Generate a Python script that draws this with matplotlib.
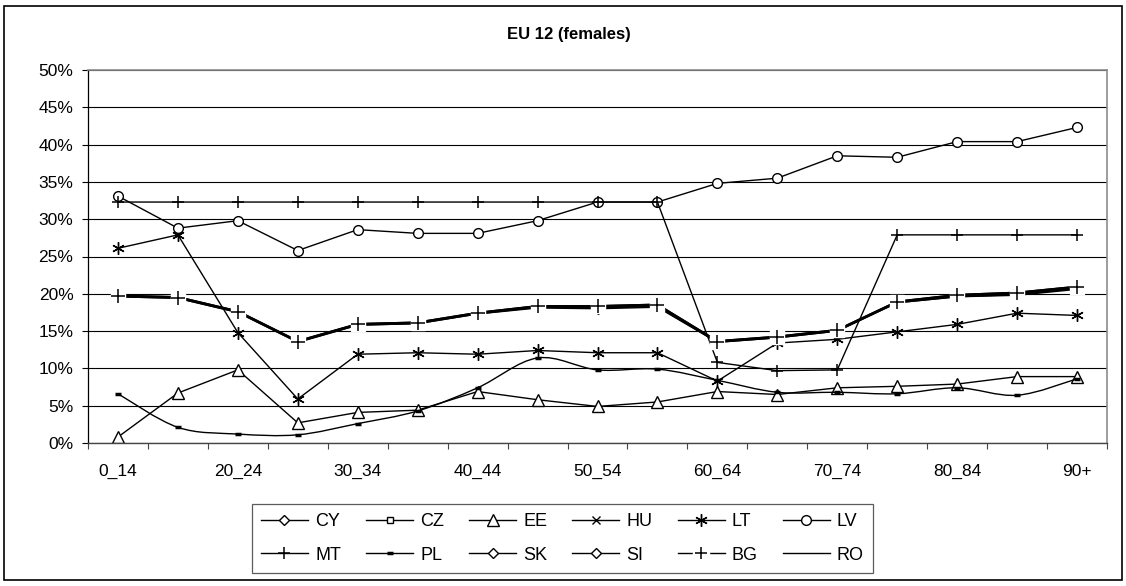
import numpy as np
import matplotlib
matplotlib.use('Agg')
import matplotlib.pyplot as plt
from matplotlib.path import Path
from matplotlib.patches import PathPatch, Rectangle
from matplotlib.lines import Line2D
from matplotlib.legend_handler import HandlerTuple
from matplotlib import font_manager

# fonts: Arial look-alike, narrow variant for the legend if it is there
names = {f.name for f in font_manager.fontManager.ttflist}
font_main = 'Liberation Sans' if 'Liberation Sans' in names else 'DejaVu Sans'
font_narrow = 'Liberation Sans Narrow' if 'Liberation Sans Narrow' in names else font_main
plt.rcParams['font.family'] = [font_main, 'DejaVu Sans']

# data (share of females, %)
age_groups = ['0_14', '15_19', '20_24', '25_29', '30_34', '35_39', '40_44', '45_49', '50_54',
              '55_59', '60_64', '65_69', '70_74', '75_79', '80_84', '85_89', '90+']

EE = [0.8, 6.7, 9.8, 2.7, 4.1, 4.4, 6.9, 5.8, 4.9, 5.5, 6.9, 6.5, 7.4, 7.6, 7.9, 8.9, 8.9]
LT = [26.1, 27.9, 14.8, 5.9, 11.9, 12.1, 11.9, 12.4, 12.1, 12.1, 8.3, 13.4, 13.9, 14.9, 15.9, 17.4, 17.1]
LV = [33.1, 28.8, 29.8, 25.8, 28.6, 28.1, 28.1, 29.8, 32.3, 32.3, 34.8, 35.5, 38.5, 38.3, 40.4, 40.4, 42.3]
MT = [32.3, 32.3, 32.3, 32.3, 32.3, 32.3, 32.3, 32.3, 32.3, 32.3, 10.8, 9.7, 9.8, 27.9, 27.9, 27.9, 27.9]
PL = [6.6, 2.1, 1.2, 1.1, 2.6, 4.3, 7.4, 11.4, 9.8, 9.9, 8.4, 6.8, 6.8, 6.6, 7.4, 6.4, 8.6]
BG = [19.7, 19.5, 17.6, 13.6, 15.9, 16.1, 17.4, 18.3, 18.3, 18.5, 13.6, 14.2, 15.1, 18.9, 19.8, 20.1, 20.9]
# series lying almost on top of BG (seen only as the thick band)
CY = [19.8, 19.6, 17.7, 13.7, 16.0, 16.2, 17.5, 18.4, 18.4, 18.6, 13.7, 14.3, 15.2, 19.0, 19.9, 20.2, 21.0]
CZ = [19.6, 19.4, 17.5, 13.5, 15.8, 16.0, 17.3, 18.2, 18.1, 18.3, 13.5, 14.1, 15.0, 18.8, 19.6, 19.9, 20.7]
HU = [19.7, 19.5, 17.6, 13.6, 15.9, 16.1, 17.4, 18.3, 18.2, 18.4, 13.6, 14.2, 15.1, 18.9, 19.7, 20.0, 20.8]
SK = [19.6, 19.4, 17.5, 13.5, 15.8, 16.0, 17.3, 18.1, 18.0, 18.2, 13.5, 14.1, 15.0, 18.8, 19.6, 19.8, 20.6]
SI = [19.8, 19.6, 17.7, 13.7, 16.0, 16.2, 17.5, 18.4, 18.4, 18.6, 13.7, 14.3, 15.2, 19.0, 19.9, 20.2, 21.0]
RO = [19.7, 19.5, 17.6, 13.6, 15.9, 16.1, 17.4, 18.3, 18.3, 18.5, 13.6, 14.2, 15.1, 18.9, 19.8, 20.1, 20.9]

y_ticks = [0, 5, 10, 15, 20, 25, 30, 35, 40, 45, 50]


def smooth_path(xs, ys):
    """Excel-like smoothed line as a bezier path through the points."""
    verts = [(xs[0], ys[0])]
    codes = [Path.MOVETO]
    n = len(xs)
    for i in range(n - 1):
        x0, y0 = (xs[i - 1], ys[i - 1]) if i > 0 else (xs[i], ys[i])
        x1, y1 = xs[i], ys[i]
        x2, y2 = xs[i + 1], ys[i + 1]
        x3, y3 = (xs[i + 2], ys[i + 2]) if i + 2 < n else (x2, y2)
        verts += [(x1 + (x2 - x0) / 6, y1 + (y2 - y0) / 6),
                  (x2 - (x3 - x1) / 6, y2 - (y3 - y1) / 6),
                  (x2, y2)]
        codes += [Path.CURVE4] * 3
    return Path(verts, codes)


W, H = 1126, 586
fig = plt.figure(figsize=(W / 100, H / 100), dpi=100)
ax = fig.add_axes([88 / W, 1 - 443 / H, (1107 - 88) / W, (443 - 70) / H])

x = np.arange(len(age_groups))
lw = 1.0
common = dict(color='black', lw=lw, mec='black')

h = {}
h['CY'], = ax.plot(x, CY, marker='D', ms=5, mfc='white', zorder=2.0, **common)
h['CZ'], = ax.plot(x, CZ, marker='s', ms=5, mfc='white', zorder=2.0, **common)
h['HU'], = ax.plot(x, HU, marker='x', ms=6, mew=1, zorder=2.0, **common)
h['SK'], = ax.plot(x, SK, marker='D', ms=5, mfc='white', zorder=2.0, **common)
h['SI'], = ax.plot(x, SI, marker='D', ms=5, mfc='white', zorder=2.0, **common)
h['RO'], = ax.plot(x, RO, zorder=2.0, **common)

h['EE'], = ax.plot(x, EE, marker='^', ms=8, mfc='white', mew=1, zorder=2.1, **common)
h['LT'], = ax.plot(x, LT, marker=(6, 2, 0), ms=9, mew=1, zorder=2.2, **common)
h['LV'], = ax.plot(x, LV, marker='o', ms=7, mfc='white', mew=1, zorder=2.3, **common)
h['MT'], = ax.plot(x, MT, marker='+', ms=9, mew=1.1, zorder=2.4, **common)

# PL: smoothed line with small dash markers
ax.add_patch(PathPatch(smooth_path(x, PL), fill=False, ec='black', lw=lw, zorder=2.5))
ax.plot(x, PL, ls='none', marker='_', ms=4.5, mew=2.5, color='black', zorder=2.5)
h['PL'] = Line2D([], [], color='black', lw=lw, marker='_', ms=4.5, mew=2.5)

# BG: line, white box behind each marker, then the plus
ax.plot(x, BG, color='black', lw=lw, zorder=2.6)
ax.plot(x, BG, ls='none', marker='s', ms=10, mfc='white', mec='white', zorder=2.7)
ax.plot(x, BG, ls='none', marker='+', ms=10, mew=1.1, color='black', zorder=2.8)
bg_line = Line2D([], [], color='black', lw=lw, marker='s', ms=11, mfc='white', mec='white')
bg_plus = Line2D([], [], ls='none', color='black', marker='+', ms=8, mew=1.1)
h['BG'] = (bg_line, bg_plus)

# axes styling (Excel look)
ax.set_xlim(-0.5, len(age_groups) - 0.5)
ax.set_ylim(0, 50)
ax.set_yticks(y_ticks)
ax.set_yticklabels([f'{v}%' for v in y_ticks])
ax.grid(axis='y', color='black', lw=0.8, zorder=0)
ax.set_axisbelow(True)

ax.set_xticks(np.arange(len(age_groups) + 1) - 0.5)
ax.set_xticklabels([])
ax.set_xticks(x[::2], labels=[age_groups[i] for i in x[::2]], minor=True)
ax.tick_params(axis='x', which='major', direction='out', length=4.5, width=0.8, color='#444444')
ax.tick_params(axis='x', which='minor', length=0, pad=15, labelsize=12.5)
ax.tick_params(axis='y', direction='out', length=4.5, width=0.8, pad=6, labelsize=12.5)

for side in ['top', 'right']:
    ax.spines[side].set_color('#8c8c8c')
    ax.spines[side].set_linewidth(1.2)
ax.spines['left'].set_color('black')
ax.spines['bottom'].set_color('#444444')
ax.spines['left'].set_linewidth(0.9)
ax.spines['bottom'].set_linewidth(1.0)

fig.text(569 / W, 1 - 34 / H, 'EU 12 (females)', ha='center', va='center',
         fontsize=12, fontweight='bold')

# legend, filled row by row
order = ['CY', 'MT', 'CZ', 'PL', 'EE', 'SK', 'HU', 'SI', 'LT', 'BG', 'LV', 'RO']
leg = fig.legend([h[k] for k in order], order, ncols=6, loc='center',
                 bbox_to_anchor=(252 / W, 1 - 574 / H, (873 - 252) / W, (574 - 503) / H),
                 mode='expand', borderaxespad=0, frameon=True, fancybox=False,
                 edgecolor='#333333', handlelength=2.6, handletextpad=0.4,
                 labelspacing=0.9, borderpad=0.5,
                 prop={'family': font_narrow, 'size': 13},
                 handler_map={tuple: HandlerTuple(ndivide=1)})
leg.get_frame().set_linewidth(0.9)

# outer chart border
fig.patches.append(Rectangle((4 / W, 1 - 580 / H), (1122 - 4) / W, (580 - 6) / H,
                             transform=fig.transFigure, fill=False, ec='black', lw=1.2))

fig.savefig('out.png', dpi=100)
